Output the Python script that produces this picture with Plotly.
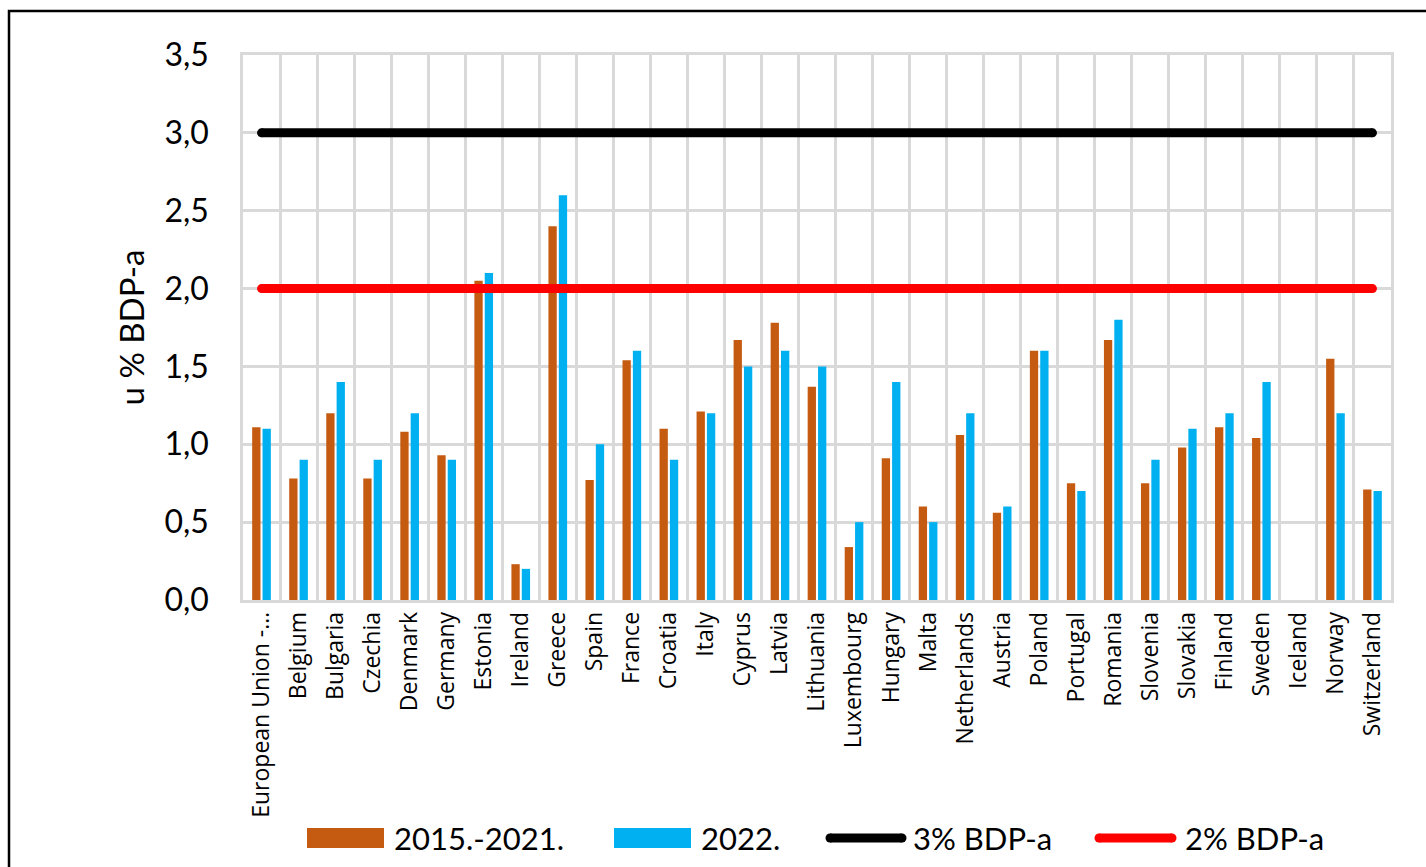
import plotly.graph_objects as go

# Countries on the category axis
countries = [
    "European Union -…", "Belgium", "Bulgaria", "Czechia", "Denmark", "Germany",
    "Estonia", "Ireland", "Greece", "Spain", "France", "Croatia", "Italy",
    "Cyprus", "Latvia", "Lithuania", "Luxembourg", "Hungary", "Malta",
    "Netherlands", "Austria", "Poland", "Portugal", "Romania", "Slovenia",
    "Slovakia", "Finland", "Sweden", "Iceland", "Norway", "Switzerland",
]

# Average 2015.-2021. (u % BDP-a)
avg_2015_2021 = [
    1.11, 0.78, 1.20, 0.78, 1.08, 0.93, 2.05, 0.23, 2.40, 0.77, 1.54, 1.10,
    1.21, 1.67, 1.78, 1.37, 0.34, 0.91, 0.60, 1.06, 0.56, 1.60, 0.75, 1.67,
    0.75, 0.98, 1.11, 1.04, None, 1.55, 0.71,
]

# Year 2022. (u % BDP-a)
year_2022 = [
    1.10, 0.90, 1.40, 0.90, 1.20, 0.90, 2.10, 0.20, 2.60, 1.00, 1.60, 0.90,
    1.20, 1.50, 1.60, 1.50, 0.50, 1.40, 0.50, 1.20, 0.60, 1.60, 0.70, 1.80,
    0.90, 1.10, 1.20, 1.40, None, 1.20, 0.70,
]

# Reference levels
target_3 = 3.0
target_2 = 2.0

y_ticks = [0.0, 0.5, 1.0, 1.5, 2.0, 2.5, 3.0, 3.5]

ORANGE = "#C55A11"
BLUE = "#00B0F0"
GRID = "#D9D9D9"

W, H = 1426, 867
L, R, T, B = 243, 35, 55, 267
PW, PH = W - L - R, H - T - B


def px_x(px):
    return (px - L) / PW


def px_y(py):
    return (H - B - py) / PH


fig = go.Figure()

fig.add_trace(go.Bar(x=countries, y=avg_2015_2021, name="2015.-2021.",
                     marker=dict(color=ORANGE, line=dict(width=0)), showlegend=False))
fig.add_trace(go.Bar(x=countries, y=year_2022, name="2022.",
                     marker=dict(color=BLUE, line=dict(width=0)), showlegend=False))

ends = [countries[0], countries[-1]]
fig.add_trace(go.Scatter(x=ends, y=[target_3, target_3], mode="lines+markers",
                         line=dict(color="black", width=9),
                         marker=dict(color="black", size=9),
                         name="3% BDP-a", showlegend=False))
fig.add_trace(go.Scatter(x=ends, y=[target_2, target_2], mode="lines+markers",
                         line=dict(color="#FF0000", width=9),
                         marker=dict(color="#FF0000", size=9),
                         name="2% BDP-a", showlegend=False))

fig.update_layout(
    width=W, height=H,
    margin=dict(l=L, r=R, t=T, b=B, autoexpand=False),
    paper_bgcolor="white", plot_bgcolor="white",
    barmode="group", bargap=0.44, bargroupgap=0.2,
    separators=",.",
    font=dict(family="Lato", color="black"),
)

fig.update_xaxes(
    type="category", range=[-0.5, len(countries) - 0.5],
    tickson="boundaries", ticks="",
    showgrid=True, gridcolor=GRID, gridwidth=2.5,
    showline=True, linecolor=GRID, linewidth=2.5, mirror=True,
    tickangle=-90, tickfont=dict(family="Open Sans", size=23, color="black"),
    automargin=False,
)

fig.update_yaxes(
    range=[0, 3.5], tickvals=y_ticks, tickformat=".1f",
    showgrid=True, gridcolor=GRID, gridwidth=2.5, zeroline=False,
    showline=True, linecolor=GRID, linewidth=2.5, mirror=True,
    ticks="", ticklabelstandoff=25,
    tickfont=dict(family="Lato", size=32, color="black"),
    title=dict(text="u % BDP-a", font=dict(family="Lato", size=33, color="black"),
               standoff=10),
    automargin=False,
)

# Outer frame
fig.add_shape(type="rect", xref="paper", yref="paper",
              x0=px_x(9), x1=px_x(1445), y0=px_y(890), y1=px_y(11),
              line=dict(color="black", width=2.5), fillcolor="rgba(0,0,0,0)",
              layer="below")

# Legend drawn along the bottom
legend_y = 838
legend_items = [
    ("rect", ORANGE, 307, 384, 392, "2015.-2021."),
    ("rect", BLUE, 614, 691, 699, "2022."),
    ("line", "black", 830, 902, 911, "3% BDP-a"),
    ("line", "#FF0000", 1099, 1172, 1183, "2% BDP-a"),
]
for kind, color, x0, x1, tx, label in legend_items:
    if kind == "rect":
        fig.add_shape(type="rect", xref="paper", yref="paper",
                      x0=px_x(x0), x1=px_x(x1), y0=px_y(legend_y + 10), y1=px_y(legend_y - 10),
                      line=dict(width=0), fillcolor=color)
    else:
        fig.add_shape(type="line", xref="paper", yref="paper",
                      x0=px_x(x0), x1=px_x(x1), y0=px_y(legend_y), y1=px_y(legend_y),
                      line=dict(color=color, width=9))
        for cx in (x0, x1):
            fig.add_shape(type="circle", xref="paper", yref="paper",
                          x0=px_x(cx - 4.5), x1=px_x(cx + 4.5),
                          y0=px_y(legend_y + 4.5), y1=px_y(legend_y - 4.5),
                          line=dict(width=0), fillcolor=color)
    fig.add_annotation(x=px_x(tx), y=px_y(legend_y), xref="paper", yref="paper",
                       text=label, showarrow=False, xanchor="left", yanchor="middle",
                       font=dict(family="Lato", size=31, color="black"))

fig.write_html("out.html")
